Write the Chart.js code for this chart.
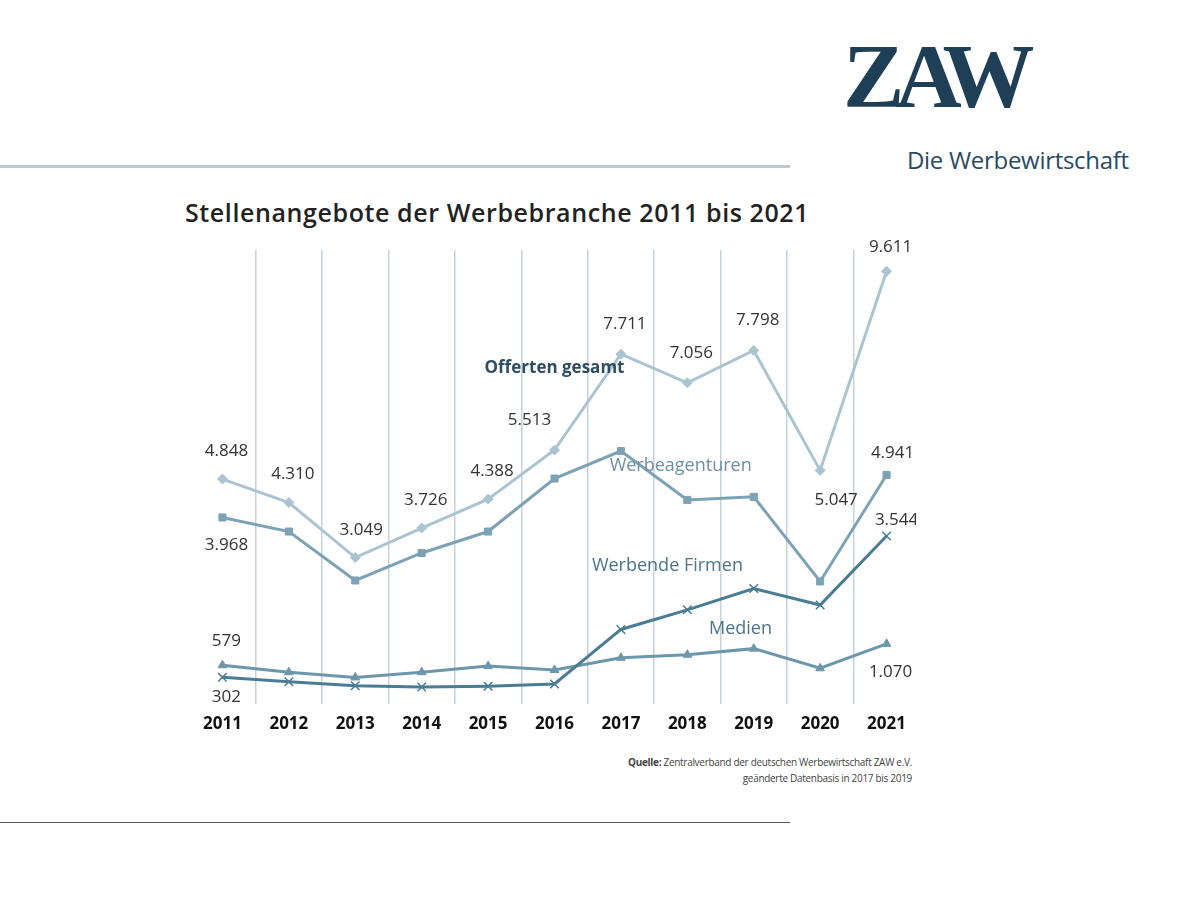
<!DOCTYPE html>
<html><head><meta charset="utf-8">
<script src="https://cdn.jsdelivr.net/npm/chart.js@4"></script>
<style>
body{margin:0;width:1200px;height:901px;background:#fff;position:relative;font-family:"Open Sans",sans-serif;overflow:hidden}
.abs{position:absolute}
</style></head><body>
<div class="abs" style="left:843px;top:30px;font-family:'Liberation Serif',serif;font-weight:bold;font-size:92px;color:#1e3f55;letter-spacing:-9px;line-height:1">ZAW</div>
<div class="abs" style="left:907px;top:143px;font-size:24px;color:#2a4a60;letter-spacing:-0.3px">Die Werbewirtschaft</div>
<div class="abs" style="left:0;top:165px;width:790px;height:3px;background:#b8cad6"></div>
<div class="abs" style="left:0;top:822px;width:790px;height:1px;background:#555"></div>
<div class="abs" style="left:185px;top:195px;font-size:25px;font-weight:600;color:#222;letter-spacing:0.6px">Stellenangebote der Werbebranche 2011 bis 2021</div>
<div class="abs" style="left:500px;top:754px;width:412px;text-align:right;font-size:10px;color:#444;line-height:16px;letter-spacing:-0.3px"><b>Quelle:</b> Zentralverband der deutschen Werbewirtschaft ZAW e.V.<br>geänderte Datenbasis in 2017 bis 2019</div>
<canvas id="c" class="abs" width="723" height="524" style="left:193px;top:220px;width:723px;height:524px"></canvas>
<script>
const years = ['2011','2012','2013','2014','2015','2016','2017','2018','2019','2020','2021'];
const offerten = [4848,4310,3049,3726,4388,5513,7711,7056,7798,5047,9611];
const agenturen = [3968,3645,2523,3154,3645,4860,5490,4370,4440,2500,4941];
const firmen = [302,200,110,80,100,150,1400,1850,2340,1960,3544];
const medien = [579,420,300,420,560,470,750,820,960,510,1070];

const valueLabels = [
  {s:0,i:0,t:'4.848',dx:4,dy:-28},{s:0,i:1,t:'4.310',dx:4,dy:-28},{s:0,i:2,t:'3.049',dx:6,dy:-27},
  {s:0,i:3,t:'3.726',dx:4,dy:-28},{s:0,i:4,t:'4.388',dx:4,dy:-28},{s:0,i:5,t:'5.513',dx:-25,dy:-30},
  {s:0,i:6,t:'7.711',dx:4,dy:-30},{s:0,i:7,t:'7.056',dx:4,dy:-30},{s:0,i:8,t:'7.798',dx:4,dy:-30},
  {s:0,i:9,t:'5.047',dx:16,dy:30},{s:0,i:10,t:'9.611',dx:4,dy:-24},
  {s:1,i:0,t:'3.968',dx:4,dy:28},{s:1,i:10,t:'4.941',dx:6,dy:-22},
  {s:2,i:10,t:'3.544',dx:10,dy:-16},{s:2,i:0,t:'302',dx:4,dy:20},
  {s:3,i:0,t:'579',dx:4,dy:-24},{s:3,i:10,t:'1.070',dx:4,dy:28}
];
const seriesLabels = [
  {t:'Offerten gesamt',x:5,y:7400,bold:true,color:'#2e4d63'},
  {t:'Werbeagenturen',x:6.9,y:5150,color:'#6f8fa2'},
  {t:'Werbende Firmen',x:6.7,y:2860,color:'#4e7489'},
  {t:'Medien',x:7.8,y:1420,color:'#4e7489'}
];

const extraText = {
  id:'extraText',
  afterDatasetsDraw(chart){
    const ctx = chart.ctx, xs = chart.scales.x, ys = chart.scales.y;
    ctx.save();
    ctx.textAlign='center';ctx.textBaseline='middle';
    ctx.font='17px "Open Sans"';ctx.fillStyle='#333';
    valueLabels.forEach(l=>{
      const p = chart.getDatasetMeta(l.s).data[l.i];
      ctx.fillText(l.t,p.x+l.dx,p.y+l.dy);
    });
    seriesLabels.forEach(l=>{
      ctx.font=(l.bold?'bold ':'')+(l.bold?'17px':'18px')+' "Open Sans"';ctx.fillStyle=l.color;
      ctx.fillText(l.t,xs.getPixelForValue(l.x),ys.getPixelForValue(l.y));
    });
    ctx.restore();
  }
};

function ds(data,color,style,rad){
  return {data,borderColor:color,backgroundColor:color,borderWidth:3,pointStyle:style,pointRadius:rad,pointBorderWidth:style==='crossRot'?1.5:1,tension:0};
}
new Chart(document.getElementById('c'),{
  type:'line',
  data:{labels:years,datasets:[
    ds(offerten,'#abc4d2','rectRot',5),
    ds(agenturen,'#7ea2b5','rect',5),
    ds(firmen,'#4a7c94','crossRot',6),
    ds(medien,'#6c97ab','triangle',5)
  ]},
  options:{responsive:false,animation:false,devicePixelRatio:1,
    plugins:{legend:{display:false},tooltip:{enabled:false}},
    layout:{padding:{top:30}},
    scales:{
      x:{grid:{offset:true,color:'#c6d2da',lineWidth:1.5,drawTicks:false},border:{display:false},
         ticks:{color:'#111',font:{size:17,weight:'bold',family:'"Open Sans"'},padding:10,maxRotation:0,autoSkip:false}},
      y:{display:false,min:-300,max:10100}
    }},
  plugins:[extraText]
});
</script>
</body></html>
